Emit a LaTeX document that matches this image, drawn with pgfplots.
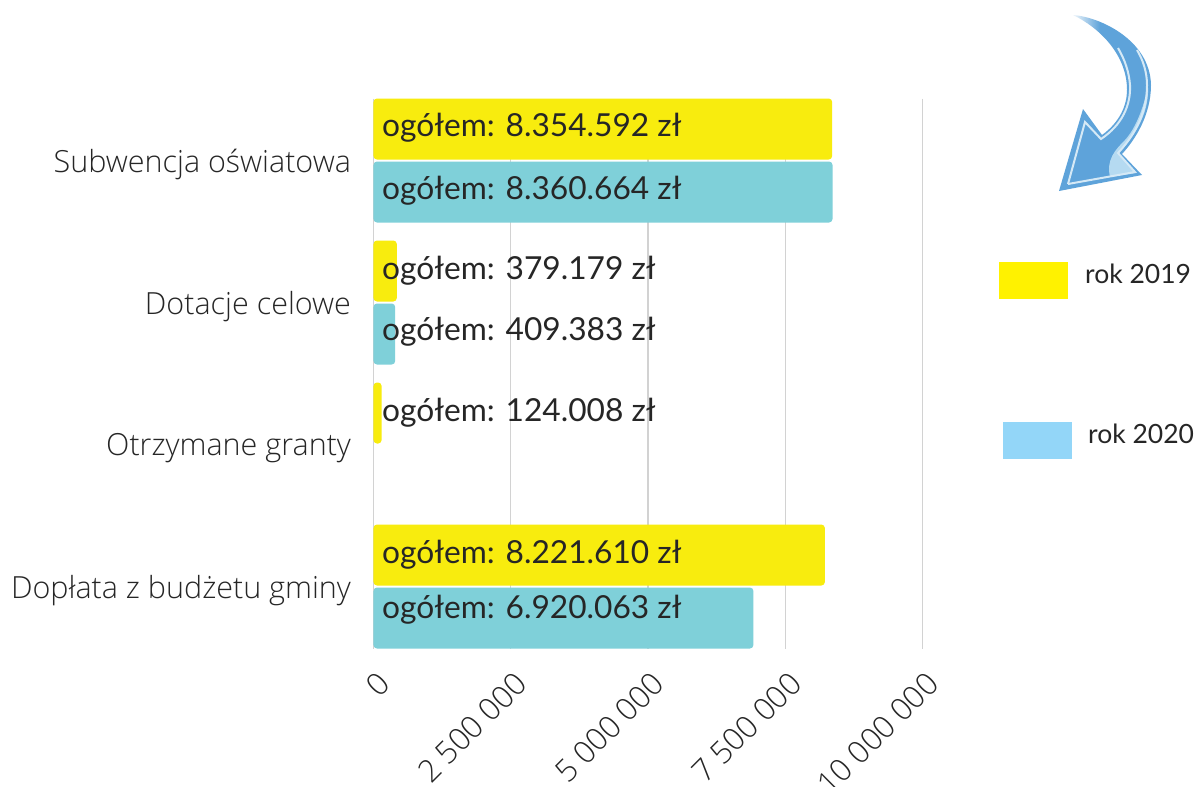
\documentclass[border=0pt]{standalone}
\usepackage{fontspec}
\setmainfont{Lato}
\newfontfamily\lightfont{Open Sans Light}
\usepackage{pgfplots}
\pgfplotsset{compat=1.18}
\usetikzlibrary{fadings}
\definecolor{barY}{HTML}{F8EC0E}
\definecolor{barT}{HTML}{7FD0D9}
\definecolor{legY}{HTML}{FFF200}
\definecolor{legB}{HTML}{93D6F8}
\definecolor{arrowA}{HTML}{5EA3DA}
\definecolor{arrowB}{HTML}{D5E9F6}
\definecolor{arrowC}{HTML}{B5DAF1}
\newcommand{\thsp}{\hspace{0.24em}}
\begin{document}
\begin{tikzpicture}
\clip (0pt,0pt) rectangle (1197pt,-787pt);
\fill[white] (0pt,0pt) rectangle (1197pt,-787pt);
\begin{axis}[
  at={(373.5pt,-98.5pt)}, anchor=north west,
  scale only axis,
  width=549pt, height=550pt,
  xbar,
  xmin=0, xmax=10000000,
  ymin=-0.4366, ymax=3.4366,
  y dir=reverse,
  ytick={0,1,2,3},
  yticklabels={{Subwencja oświatowa},{Dotacje celowe},{Otrzymane granty},{Dopłata z budżetu gminy}},
  yticklabel style={font=\lightfont\fontsize{30.5}{34}\selectfont, text=black!85, yshift=-4pt},
  xtick={0,2500000,5000000,7500000,10000000},
  xticklabels={0,{2\thsp 500\thsp 000},{5\thsp 000\thsp 000},{7\thsp 500\thsp 000},{10\thsp 000\thsp 000}},
  scaled x ticks=false,
  xticklabel style={font=\lightfont\fontsize{31}{34}\selectfont, text=black!85, rotate=45, anchor=east, xshift=-10pt, yshift=-28.5pt},
  xmajorgrids=true,
  grid style={line width=1.2pt, gray!35},
  axis line style={draw=none},
  major tick length=0pt,
  ytick style={draw=none}, xtick style={draw=none},
  yticklabel shift=19pt,
  clip=false,
]
\addplot[xbar, fill=barY, draw=none, rounded corners=3.5pt, bar width=61pt, bar shift=31.5pt]
  coordinates {(8354592,0) (425000,1) (148000,2) (8221610,3)};
\addplot[xbar, fill=barT, draw=none, rounded corners=3.5pt, bar width=61pt, bar shift=-31.5pt]
  coordinates {(8360664,0) (395000,1) (6920063,3)};
\addplot[draw=none, mark=none, forget plot, point meta=explicit symbolic,
  nodes near coords,
  every node near coord/.style={anchor=west, inner sep=0pt, text=black!85, font=\fontsize{31.7}{36}\selectfont}]
  coordinates {
    (155000,-0.232) [ogółem: 8.354.592 zł]
    (155000,0.211) [ogółem: 8.360.664 zł]
    (155000,0.775) [ogółem: 379.179 zł]
    (155000,1.204) [ogółem: 409.383 zł]
    (155000,1.775) [ogółem: 124.008 zł]
    (155000,2.775) [ogółem: 8.221.610 zł]
    (155000,3.162) [ogółem: 6.920.063 zł]
  };
\end{axis}
\begin{scope}[x=1pt,y=-1pt]
% legend
\fill[legY] (999,262) rectangle (1068,299);
\fill[legB] (1003,422) rectangle (1072,459);
\node[anchor=west, inner sep=0pt, text=black!85, font=\fontsize{26.5}{30}\selectfont] at (1085,274) {rok 2019};
\node[anchor=west, inner sep=0pt, text=black!85, font=\fontsize{26.5}{30}\selectfont] at (1088,434) {rok 2020};
% arrow
\fill[arrowA] (1073,15) .. controls (1100,17) and (1150,40) .. (1151,85)
  .. controls (1151,115) and (1135,140) .. (1122,154)
  -- (1142,175) -- (1059,191) -- (1083,109) -- (1102,135)
  .. controls (1120,122) and (1127,105) .. (1127,90)
  .. controls (1127,55) and (1100,28) .. (1073,15) -- cycle;
\fill[arrowC] (1148,88) .. controls (1149,115) and (1133,138) .. (1118,154)
  -- (1136,173) -- (1110,177) .. controls (1106,160) and (1115,150) .. (1125,140)
  .. controls (1136,128) and (1143,108) .. (1148,88) -- cycle;
\draw[arrowB, line width=2pt, line join=miter] (1068,184) -- (1135,172) -- (1118,153)
  .. controls (1130,140) and (1147,118) .. (1147,85)
  .. controls (1147,72) and (1143,60) .. (1137,50);
\draw[arrowB, line width=2pt, line join=miter] (1068,184) -- (1085,122) -- (1101,139)
  .. controls (1122,125) and (1131,105) .. (1130,85)
  .. controls (1129,72) and (1125,60) .. (1118,48);
\fill[white, path fading=east] (1070,10) rectangle (1100,32);
\end{scope}
\end{tikzpicture}
\end{document}
